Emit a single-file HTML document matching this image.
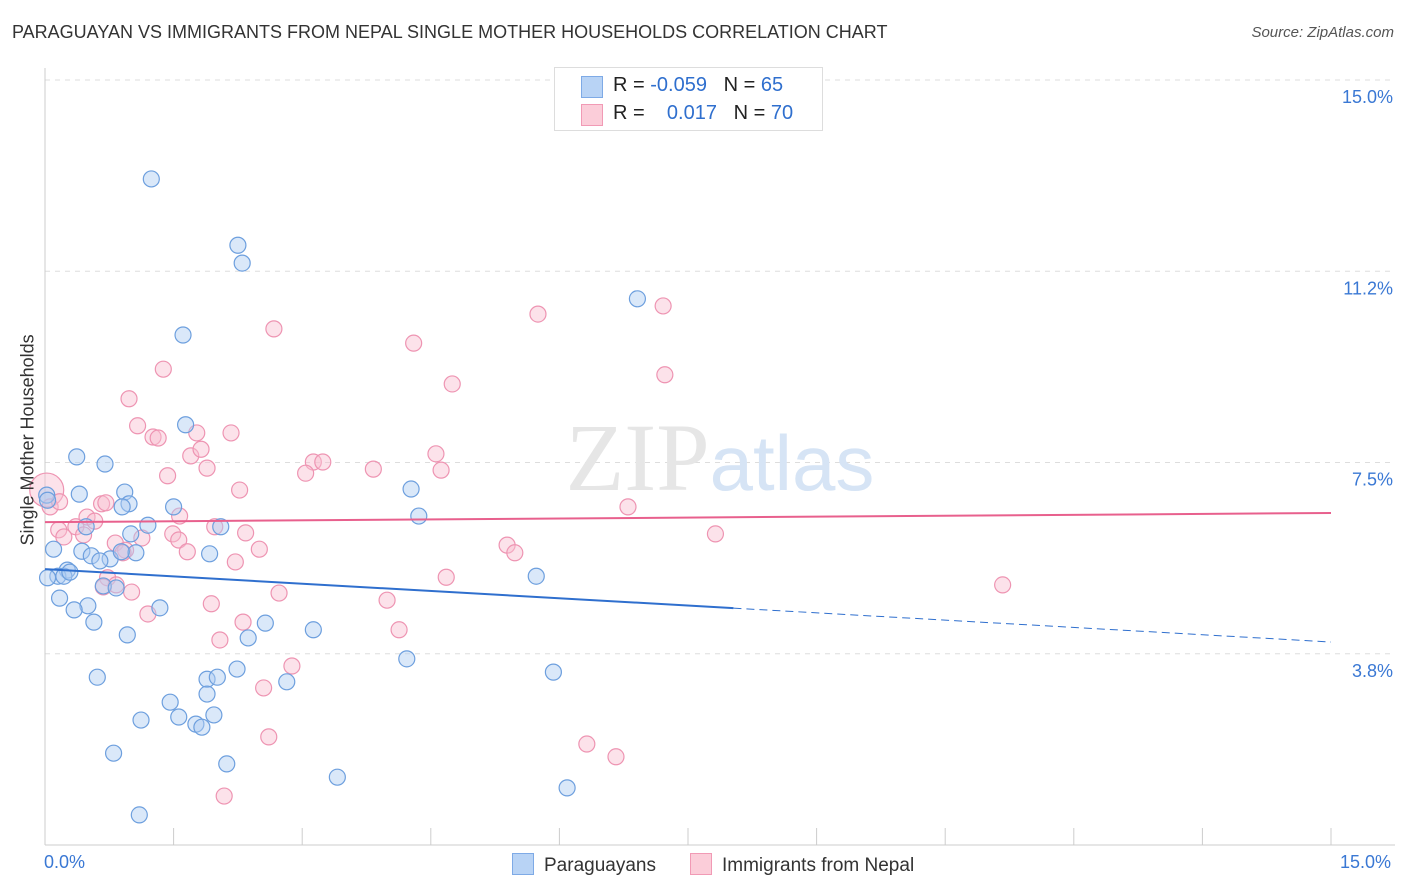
<!DOCTYPE html>
<html><head><meta charset="utf-8"><style>
body{margin:0;background:#fff;font-family:"Liberation Sans",sans-serif;}
#wrap{position:relative;width:1406px;height:892px;overflow:hidden;}
.t{position:absolute;white-space:nowrap;}
</style></head><body>
<div id="wrap">
<div class="t" style="left:12px;top:22px;font-size:18px;color:#333;">PARAGUAYAN VS IMMIGRANTS FROM NEPAL SINGLE MOTHER HOUSEHOLDS CORRELATION CHART</div>
<div class="t" style="right:12px;top:24px;font-size:15px;color:#555;font-style:italic;">Source: ZipAtlas.com</div>
<svg id="svg" width="1406" height="892" style="position:absolute;left:0;top:0"></svg>
<div class="t" style="left:554px;top:67px;width:267px;height:62px;border:1px solid #ddd;background:#fff;font-size:20px;color:#222;">
<div style="position:absolute;left:26px;top:8px;width:20px;height:20px;background:#b8d3f5;border:1px solid #7eaae6;"></div>
<div style="position:absolute;left:58px;top:6px;">R = <span style="color:#2f6fce">-0.059</span>&nbsp;&nbsp;&nbsp;N = <span style="color:#2f6fce">65</span></div>
<div style="position:absolute;left:26px;top:36px;width:20px;height:20px;background:#fbcdd9;border:1px solid #f19ab5;"></div>
<div style="position:absolute;left:58px;top:34px;">R = &nbsp;&nbsp;&nbsp;<span style="color:#2f6fce">0.017</span>&nbsp;&nbsp;&nbsp;N = <span style="color:#2f6fce">70</span></div>
</div>
<div class="t" style="left:-62px;top:445px;transform:rotate(-90deg);font-size:18px;color:#333;width:180px;text-align:center;">Single Mother Households</div>
<div class="t" style="left:44px;top:852px;font-size:18px;color:#3a78d4;">0.0%</div>
<div class="t" style="left:1340px;top:852px;font-size:18px;color:#3a78d4;">15.0%</div>
<div class="t" style="left:512px;top:853px;font-size:19px;color:#333;"><span style="display:inline-block;width:20px;height:20px;background:#b8d3f5;border:1px solid #7eaae6;vertical-align:-4px;margin-right:10px;"></span>Paraguayans</div>
<div class="t" style="left:690px;top:853px;font-size:19px;color:#333;"><span style="display:inline-block;width:20px;height:20px;background:#fbcdd9;border:1px solid #f19ab5;vertical-align:-4px;margin-right:10px;"></span>Immigrants from Nepal</div>
</div>
<script>
const yTicks=[15.0,11.25,7.5,3.75];
const yTickLabels=["15.0%","11.2%","7.5%","3.8%"];
const blueX=[1.24,2.25,2.30,6.91,1.61,1.64,0.37,0.70,0.40,0.93,0.98,0.90,1.50,0.02,0.03,4.27,4.36,1.20,2.05,1.00,0.48,0.10,0.43,0.54,0.76,0.64,1.06,1.92,0.89,0.26,0.15,0.22,0.29,5.73,0.68,0.83,0.17,0.50,0.34,1.34,0.57,2.57,0.96,2.37,3.13,4.22,0.61,2.24,5.93,1.89,2.01,2.82,1.89,1.46,1.12,1.56,1.97,1.76,1.83,0.80,2.12,3.41,6.09,1.10,0.03];
const blueY=[13.06,11.76,11.41,10.71,10.00,8.24,7.61,7.47,6.88,6.92,6.69,6.63,6.63,6.86,6.76,6.98,6.45,6.27,6.24,6.10,6.24,5.80,5.76,5.67,5.61,5.57,5.73,5.71,5.75,5.39,5.27,5.27,5.35,5.27,5.08,5.04,4.84,4.69,4.61,4.65,4.37,4.35,4.12,4.06,4.22,3.65,3.29,3.45,3.39,3.25,3.29,3.20,2.96,2.80,2.45,2.51,2.55,2.37,2.31,1.80,1.59,1.33,1.12,0.59,5.24];
const pinkX=[2.67,5.75,7.21,4.30,4.75,7.23,1.38,0.98,1.08,1.26,1.32,1.77,2.17,1.70,1.82,1.43,1.89,4.56,4.62,3.13,3.24,3.04,3.83,2.27,6.80,0.02,0.06,0.17,0.66,0.71,0.49,0.58,1.57,0.16,0.36,1.98,0.22,0.45,2.34,1.49,1.56,0.82,1.13,1.66,2.50,0.94,0.91,5.39,5.48,7.82,2.22,4.68,0.73,0.83,1.01,2.73,11.17,1.94,3.99,1.20,2.31,4.13,2.04,2.88,2.55,2.61,6.32,6.66,2.09,0.68];
const pinkY=[10.12,10.41,10.57,9.84,9.04,9.22,9.33,8.75,8.22,8.00,7.98,8.08,8.08,7.63,7.76,7.24,7.39,7.67,7.35,7.51,7.51,7.29,7.37,6.96,6.63,6.96,6.63,6.73,6.69,6.71,6.43,6.35,6.45,6.18,6.24,6.24,6.04,6.08,6.12,6.10,5.98,5.92,6.02,5.75,5.80,5.78,5.73,5.88,5.73,6.10,5.55,5.25,5.24,5.10,4.96,4.94,5.10,4.73,4.80,4.53,4.37,4.22,4.02,3.51,3.08,2.12,1.98,1.73,0.96,5.06];
const blueTrend=[5.41,3.98];
const pinkTrend=[6.33,6.51];
const blueSolidEnd=8.03;
const NS="http://www.w3.org/2000/svg";
const svg=document.getElementById('svg');
const X=v=>45+v*(1286/15);
const Y=v=>845-v*51;
function mk(tag,attrs){const e=document.createElementNS(NS,tag);for(const k in attrs)e.setAttribute(k,attrs[k]);svg.appendChild(e);return e;}
yTicks.forEach((v,i)=>{
 const g=mk('line',{x1:45,x2:1395,y1:Y(v),y2:Y(v),stroke:'#ddd','stroke-dasharray':'5,5'});
 
 
 const t=mk('text',{x:1393,y:Y(v)+23,'text-anchor':'end','font-size':18,fill:'#3a78d4','font-family':'Liberation Sans'});
 t.textContent=yTickLabels[i];
 
 
});
const ax=mk('line',{x1:45,x2:1395,y1:845,y2:845,stroke:'#ccc'});


const ay=mk('line',{x1:45,x2:45,y1:68,y2:845,stroke:'#ccc'});


for(let i=0;i<=10;i++){const tk=mk('line',{x1:X(i*1.5),x2:X(i*1.5),y1:828,y2:845,stroke:'#ccc'});
 
 }
const wm=mk('text',{x:720,y:490,'text-anchor':'middle','font-size':96,fill:'#e6e6e6','font-family':'Liberation Serif'});
wm.innerHTML='ZIP<tspan fill="#d6e4f5" font-family="Liberation Sans" font-size="78">atlas</tspan>';


function dots(xs,ys,fill,stroke,name){xs.forEach((x,i)=>{
 const r=(name==='nepal-point'&&i===25)?17:8;
 const c=mk('circle',{cx:X(x),cy:Y(ys[i]),r:r,fill:fill,'fill-opacity':0.45,stroke:stroke,'stroke-width':1.2});
 
 
});}
dots(pinkX,pinkY,'#f8bed0','#ee94b2','nepal-point');
dots(blueX,blueY,'#aecbf1','#6d9fde','paraguayan-point');
const slope=(blueTrend[1]-blueTrend[0])/15;
const bl=mk('line',{x1:X(0),y1:Y(blueTrend[0]),x2:X(blueSolidEnd),y2:Y(blueTrend[0]+slope*blueSolidEnd),stroke:'#2f6fce','stroke-width':2});


const bd=mk('line',{x1:X(blueSolidEnd),y1:Y(blueTrend[0]+slope*blueSolidEnd),x2:X(15),y2:Y(blueTrend[1]),stroke:'#2f6fce','stroke-width':1,'stroke-dasharray':'8,5'});


const pl=mk('line',{x1:X(0),y1:Y(pinkTrend[0]),x2:X(15),y2:Y(pinkTrend[1]),stroke:'#e8608d','stroke-width':2});


</script>
</body></html>
